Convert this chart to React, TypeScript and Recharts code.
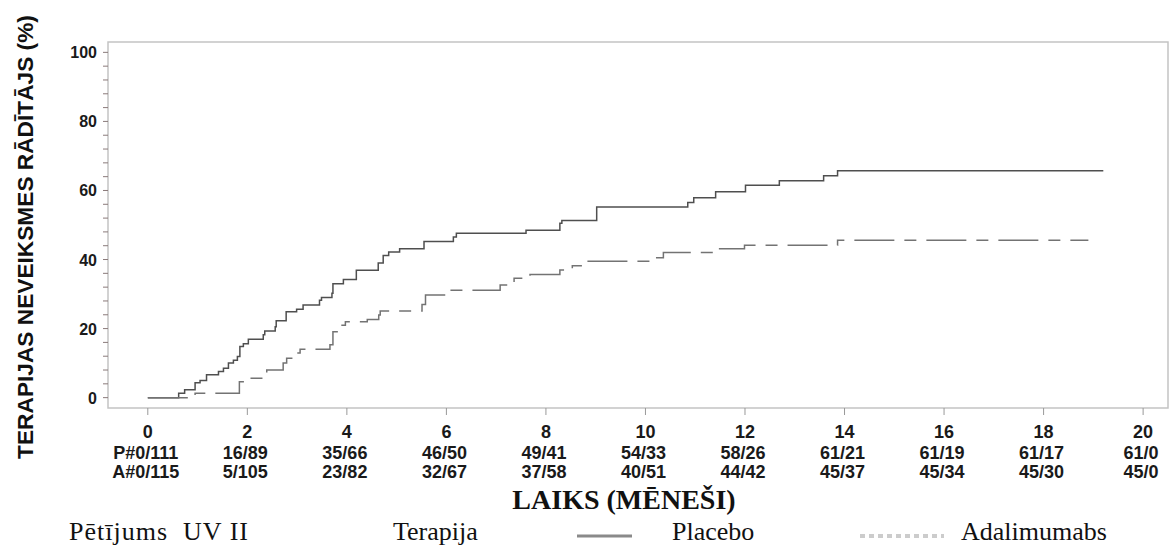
import React from 'react';
import { LineChart, Line, XAxis, YAxis, ReferenceArea } from 'recharts';

// Kaplan-Meier steps (months, cumulative % failure)
const placeboMonths = [0, 0.62, 0.74, 0.95, 1.05, 1.18, 1.42, 1.52, 1.62, 1.72, 1.8, 1.85, 1.92, 2.02, 2.32, 2.35, 2.56, 2.58, 2.78, 2.99, 3.12, 3.45, 3.49, 3.7, 3.72, 3.93, 4.19, 4.63, 4.73, 4.84, 5.06, 5.55, 6.14, 6.2, 7.6, 8.28, 8.32, 9.02, 10.85, 10.97, 11.41, 12.01, 12.69, 13.58, 13.86, 19.2];
const placeboPct = [0, 1.3, 2.3, 4.3, 5.0, 6.6, 7.6, 8.5, 10.0, 10.8, 11.9, 14.8, 15.6, 16.9, 18.2, 19.3, 20.5, 22.3, 24.9, 25.6, 26.8, 28.2, 29.0, 30.2, 33.0, 34.2, 36.9, 39.0, 41.2, 42.2, 43.1, 45.2, 46.5, 47.6, 48.5, 50.5, 51.3, 55.2, 56.5, 57.9, 59.6, 61.5, 62.8, 64.3, 65.7, 65.7];

const adaMonths = [0, 0.95, 1.84, 1.99, 2.39, 2.72, 2.79, 2.96, 3.06, 3.66, 3.72, 3.87, 3.97, 4.41, 4.64, 4.67, 5.51, 5.58, 6.02, 7.08, 7.36, 7.68, 8.28, 8.53, 8.77, 10.13, 10.36, 11.49, 11.99, 13.86, 18.9];
const adaPct = [0, 1.3, 4.6, 5.6, 8.0, 10.0, 11.4, 12.9, 14.0, 15.3, 19.1, 21.0, 22.0, 22.6, 23.9, 25.1, 27.0, 29.7, 31.1, 32.6, 34.6, 35.7, 37.0, 38.2, 39.5, 40.5, 42.0, 43.1, 44.1, 45.6, 45.6];

// number at risk table under the x axis
const monthTicks = [0, 2, 4, 6, 8, 10, 12, 14, 16, 18, 20];
const placeboRisk = ['P#0/111', '16/89', '35/66', '46/50', '49/41', '54/33', '58/26', '61/21', '61/19', '61/17', '61/0'];
const adaRisk = ['A#0/115', '5/105', '23/82', '32/67', '37/58', '40/51', '44/42', '45/37', '45/34', '45/30', '45/0'];

const yMinorTicks = [0, 4, 8, 12, 16, 20, 24, 28, 32, 36, 40, 44, 48, 52, 56, 60, 64, 68, 72, 76, 80, 84, 88, 92, 96, 100];
const yLabels = [0, 20, 40, 60, 80, 100];

const placeboData = placeboMonths.map((m, i) => ({ month: m, pct: placeboPct[i] }));
const adaData = adaMonths.map((m, i) => ({ month: m, pct: adaPct[i] }));

const SANS = 'Liberation Sans, Arial, sans-serif';
const SERIF = 'Liberation Serif, Times New Roman, serif';

const XTick = (props: any) => {
  const { x, y, payload } = props;
  const i = monthTicks.indexOf(payload.value);
  return (
    <g fontFamily={SANS} fontWeight="bold" fontSize={18} fill="#1a1a1a" textAnchor="middle">
      <text x={x} y={y + 23}>{payload.value}</text>
      <text x={x - 2} y={y + 44}>{placeboRisk[i]}</text>
      <text x={x - 2} y={y + 63}>{adaRisk[i]}</text>
    </g>
  );
};

const YTick = (props: any) => {
  const { x, y, payload } = props;
  if (!yLabels.includes(payload.value)) return <g />;
  return (
    <text x={x} y={y} dy={6} textAnchor="end" fontFamily={SANS} fontWeight="bold" fontSize={16} fill="#1a1a1a">
      {payload.value}
    </text>
  );
};

const App: React.FC = () => {
  return (
    <div style={{ position: 'absolute', left: 0, top: 0, width: 1169, height: 548, background: '#fff' }}>
      <LineChart width={1169} height={548} margin={{ top: 42, right: 1, left: 0, bottom: 0 }}>
        <ReferenceArea x1={-0.8} x2={20.5} y1={-3} y2={103} fill="none" stroke="#c4c4c4" strokeWidth={1.5} />
        <XAxis
          type="number"
          dataKey="month"
          domain={[-0.8, 20.5]}
          ticks={monthTicks}
          allowDataOverflow
          height={140}
          axisLine={false}
          tickSize={7}
          tickMargin={0}
          tickLine={{ stroke: '#999' }}
          tick={<XTick />}
          interval={0}
          label={{
            content: () => (
              <text x={624} y={509} textAnchor="middle" fontFamily={SERIF} fontWeight="bold" fontSize={28} fill="#111">
                LAIKS (MĒNEŠI)
              </text>
            ),
          }}
        />
        <YAxis
          type="number"
          domain={[-3, 103]}
          ticks={yMinorTicks}
          allowDataOverflow
          width={108}
          axisLine={false}
          tickSize={5}
          tickMargin={6}
          tickLine={{ stroke: '#8a7a7a' }}
          tick={<YTick />}
          interval={0}
          label={{
            content: () => (
              <text
                x={25}
                y={237}
                transform="rotate(-90, 25, 237)"
                textAnchor="middle"
                dominantBaseline="central"
                fontFamily={SANS}
                fontWeight="bold"
                fontSize={22.7}
                fill="#111"
              >
                TERAPIJAS NEVEIKSMES RĀDĪTĀJS (%)
              </text>
            ),
          }}
        />
        <Line data={placeboData} dataKey="pct" type="stepAfter" stroke="#4f4f4f" strokeWidth={1.5} dot={false} isAnimationActive={false} />
        <Line data={adaData} dataKey="pct" type="stepAfter" stroke="#737373" strokeWidth={1.5} strokeDasharray="40 10 12 10" dot={false} isAnimationActive={false} />
      </LineChart>
      {/* legend row */}
      <svg width={1169} height={548} style={{ position: 'absolute', left: 0, top: 0, pointerEvents: 'none' }}>
        <g fontFamily={SERIF} fontSize={26} fill="#111">
          <text x={69} y={540} xmlSpace="preserve" textLength={179}>Pētījums  UV II</text>
          <text x={393} y={540}>Terapija</text>
          <line x1={577} x2={632} y1={536} y2={536} stroke="#8a8a8a" strokeWidth={3} />
          <text x={672} y={540}>Placebo</text>
          <line x1={860} x2={944} y1={536} y2={536} stroke="#cccccc" strokeWidth={4} strokeDasharray="5 4" />
          <text x={961} y={540}>Adalimumabs</text>
        </g>
      </svg>
    </div>
  );
};

export default App;
